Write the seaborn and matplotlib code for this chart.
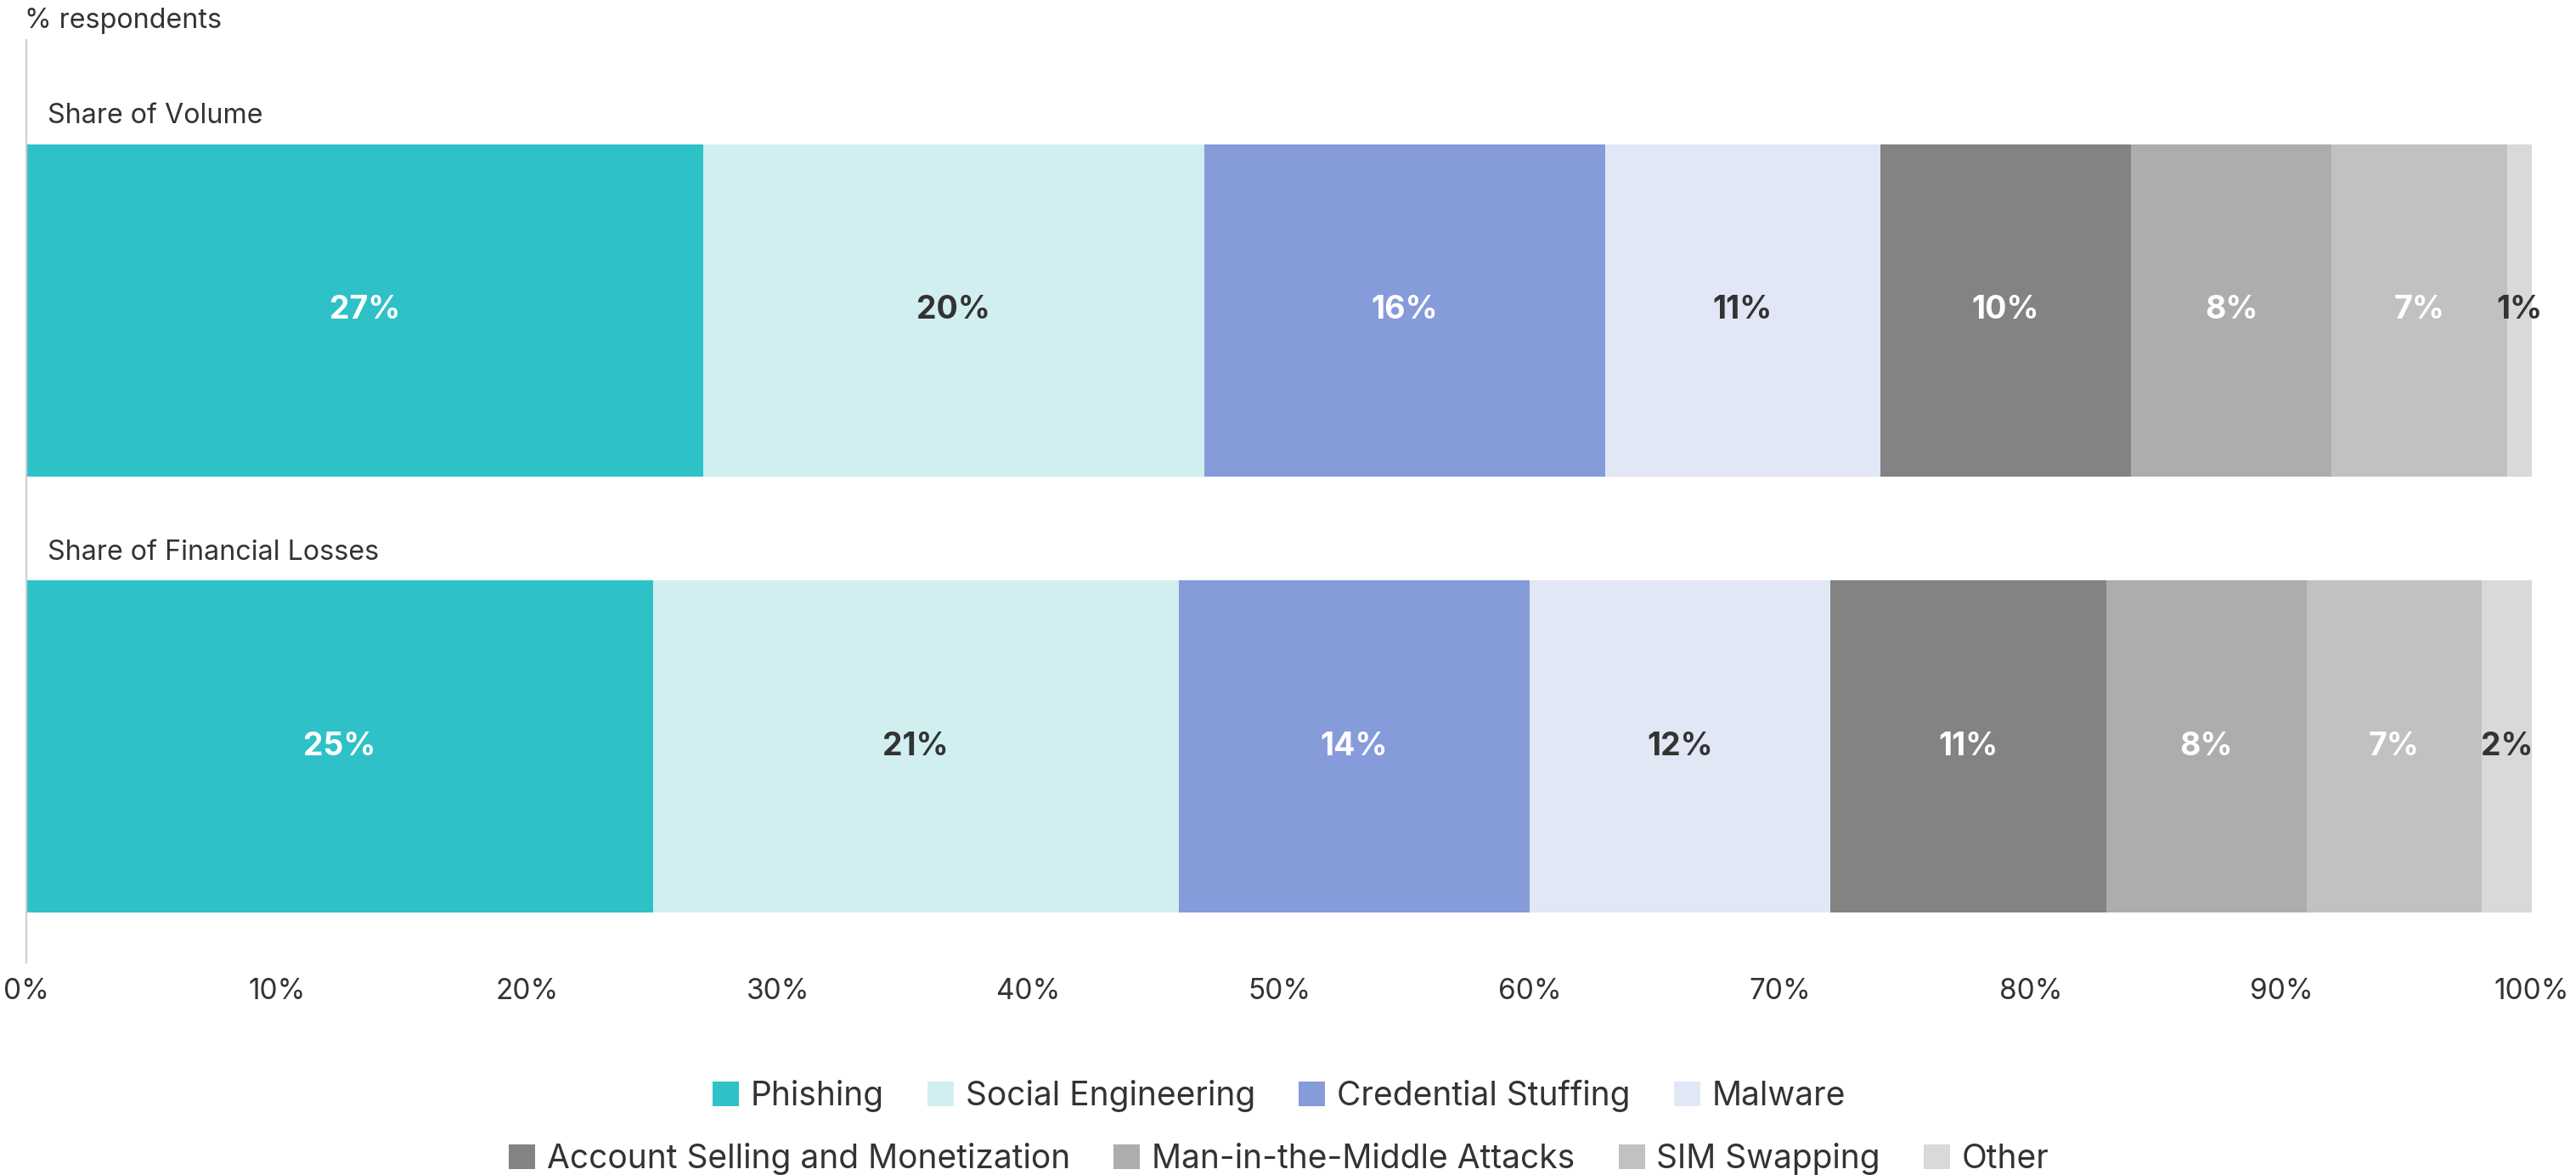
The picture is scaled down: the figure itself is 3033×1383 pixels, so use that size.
import numpy as np
import pandas as pd
import matplotlib
matplotlib.use("Agg")
import matplotlib.pyplot as plt
from matplotlib.patches import Patch
import seaborn as sns

# ---- data ----
categories = ["Share of Volume", "Share of Financial Losses"]
series = ["Phishing", "Social Engineering", "Credential Stuffing", "Malware",
          "Account Selling and Monetization", "Man-in-the-Middle Attacks",
          "SIM Swapping", "Other"]
volume = [27, 20, 16, 11, 10, 8, 7, 1]
losses = [25, 21, 14, 12, 11, 8, 7, 2]
colors = ["#2FC1C8", "#D1EFF0", "#869BDA", "#E1E7F5",
          "#838383", "#ADADAD", "#C1C1C1", "#D9D9D9"]
label_colors = ["white", "#333333", "white", "#333333",
                "white", "white", "white", "#333333"]
xticks = [0, 10, 20, 30, 40, 50, 60, 70, 80, 90, 100]
xticklabels = [f"{t}%" for t in xticks]

sns.set_theme(style="white")
plt.rcParams["font.family"] = ["Inter", "DejaVu Sans"]

W, H, DPI = 3033, 1383, 200
fig = plt.figure(figsize=(W / DPI, H / DPI), dpi=DPI)
ax = fig.add_axes([31 / W, 1 - 1133 / H, (2981 - 31) / W, (1133 - 47) / H])

vals = np.array([volume, losses], dtype=float)
cum = np.cumsum(vals, axis=1)

df = pd.DataFrame(cum, columns=series)
df["category"] = categories

for i in reversed(range(len(series))):
    sns.barplot(data=df, x=series[i], y="category", orient="h",
                color=colors[i], saturation=1, width=0.762,
                errorbar=None, linewidth=0, ax=ax)

# value labels
for r in range(len(categories)):
    for i in range(len(series)):
        center = cum[r, i] - vals[r, i] / 2
        ax.text(center, r, f"{int(vals[r, i])}%", ha="center", va="center",
                color=label_colors[i], fontsize=13.5, fontweight="bold")
    ax.text(0.85, r - 0.445, categories[r], ha="left", va="center",
            color="#333333", fontsize=11.6)

ax.set_xlim(0, 100)
ax.set_ylim(1.495, -0.620)
ax.set_xticks(xticks)
ax.set_xticklabels(xticklabels, color="#333333", fontsize=12)
ax.set_yticks([])
ax.set_xlabel("")
ax.set_ylabel("")
ax.tick_params(axis="x", length=0, pad=6.5)
for s in ["top", "right", "bottom"]:
    ax.spines[s].set_visible(False)
ax.spines["left"].set_color("#D0D0D0")
ax.spines["left"].set_linewidth(0.8)

fig.text(29 / W, 1 - 25 / H, "% respondents", ha="left", va="center",
         color="#333333", fontsize=11.6)

# legends (two centered rows, centered on the plot area)
handles = [Patch(facecolor=c, edgecolor="none") for c in colors]
common = dict(frameon=False, fontsize=14, handlelength=0.8, handleheight=0.8,
              handletextpad=0.35, columnspacing=1.32, labelcolor="#333333",
              loc="center", borderaxespad=0, borderpad=0)
cx = (31 + 2981) / 2 / W
leg1 = fig.legend(handles[:4], series[:4], ncol=4,
                  bbox_to_anchor=(cx, 1 - 1290 / H), **common)
leg2 = fig.legend(handles[4:], series[4:], ncol=4,
                  bbox_to_anchor=(cx, 1 - 1364 / H), **common)

fig.savefig("out.png", dpi=DPI, facecolor="white")
